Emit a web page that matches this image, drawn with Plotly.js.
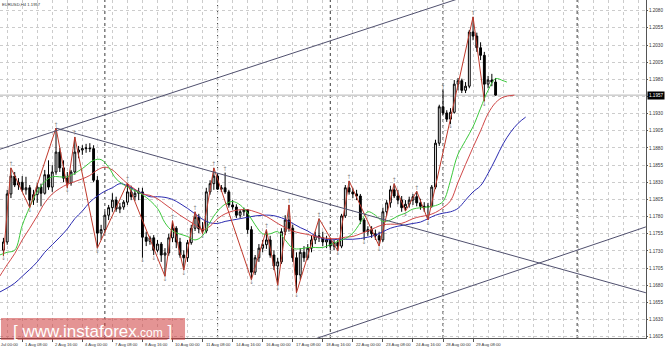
<!DOCTYPE html>
<html><head><meta charset="utf-8">
<script src="https://cdn.plot.ly/plotly-3.0.1.min.js"></script>
<style>html,body{margin:0;padding:0;background:#fff}#chart{width:665px;height:351px}</style>
</head><body><div id="chart"></div>
<script>
// ---- data (EURUSD H4, bar index 0 = 31 Jul 00:00) ----
const firstBar = 3;
const open = [
1.1731,1.1743,1.1813,1.1839,1.1826,1.1830,1.1819,1.1822,1.1804,1.1812,
1.1823,1.1814,1.1841,1.1823,1.1845,1.1874,1.1851,1.1836,1.1829,1.1845,
1.1874,1.1877,1.1879,1.1880,1.1879,1.1833,1.1756,1.1761,1.1782,1.1793,
1.1804,1.1791,1.1794,1.1801,1.1816,1.1809,1.1814,1.1816,1.1750,1.1744,
1.1749,1.1731,1.1740,1.1724,1.1727,1.1749,1.1763,1.1743,1.1724,1.1720,
1.1742,1.1763,1.1779,1.1762,1.1759,1.1816,1.1828,1.1839,1.1820,1.1822,
1.1816,1.1797,1.1794,1.1782,1.1787,1.1790,1.1761,1.1699,1.1720,1.1734,
1.1739,1.1746,1.1724,1.1708,1.1714,1.1758,1.1775,1.1763,1.1720,1.1695,
1.1728,1.1720,1.1734,1.1746,1.1752,1.1749,1.1743,1.1746,1.1737,1.1742,
1.1737,1.1781,1.1822,1.1816,1.1813,1.1810,1.1775,1.1758,1.1761,1.1755,
1.1752,1.1746,1.1787,1.1800,1.1819,1.1810,1.1804,1.1793,1.1798,1.1804,
1.1809,1.1800,1.1795,1.1794,1.1795,1.1823,1.1887,1.1940,1.1931,1.1922,
1.1932,1.1973,1.1978,1.1964,1.1970,1.2049,1.2043,1.2026,1.2015,1.1973,
1.1979,1.1976];
const high = [
1.1749,1.1819,1.1851,1.1845,1.1836,1.1839,1.1838,1.1826,1.1819,1.1829,
1.1828,1.1848,1.1862,1.1855,1.1909,1.1880,1.1862,1.1845,1.1848,1.1896,
1.1883,1.1884,1.1886,1.1887,1.1884,1.1839,1.1768,1.1787,1.1797,1.1814,
1.1809,1.1800,1.1804,1.1829,1.1825,1.1819,1.1822,1.1822,1.1758,1.1752,
1.1753,1.1746,1.1743,1.1734,1.1755,1.1774,1.1766,1.1749,1.1731,1.1746,
1.1768,1.1787,1.1784,1.1772,1.1822,1.1833,1.1851,1.1842,1.1826,1.1844,
1.1819,1.1804,1.1798,1.1790,1.1793,1.1791,1.1766,1.1724,1.1740,1.1746,
1.1761,1.1752,1.1731,1.1720,1.1763,1.1782,1.1797,1.1768,1.1728,1.1734,
1.1737,1.1740,1.1752,1.1758,1.1777,1.1758,1.1752,1.1749,1.1746,1.1746,
1.1784,1.1826,1.1832,1.1822,1.1819,1.1813,1.1778,1.1766,1.1766,1.1761,
1.1758,1.1793,1.1804,1.1825,1.1828,1.1819,1.1810,1.1804,1.1809,1.1813,
1.1817,1.1806,1.1801,1.1800,1.1826,1.1892,1.1943,1.1964,1.1935,1.1938,
1.1979,1.1982,1.1981,1.1976,1.2052,1.2071,1.2048,1.2034,1.2020,1.1985,
1.1988,1.1982];
const low = [
1.1723,1.1739,1.1807,1.1823,1.1819,1.1816,1.1812,1.1793,1.1797,1.1800,
1.1795,1.1812,1.1819,1.1816,1.1841,1.1845,1.1830,1.1822,1.1825,1.1841,
1.1865,1.1870,1.1873,1.1874,1.1830,1.1734,1.1746,1.1756,1.1775,1.1787,
1.1787,1.1785,1.1790,1.1797,1.1804,1.1803,1.1804,1.1720,1.1737,1.1739,
1.1724,1.1728,1.1714,1.1693,1.1723,1.1743,1.1734,1.1720,1.1702,1.1714,
1.1739,1.1759,1.1756,1.1755,1.1756,1.1812,1.1819,1.1819,1.1816,1.1813,
1.1793,1.1790,1.1778,1.1778,1.1781,1.1755,1.1688,1.1695,1.1714,1.1728,
1.1733,1.1720,1.1702,1.1680,1.1711,1.1753,1.1758,1.1714,1.1669,1.1688,
1.1714,1.1717,1.1728,1.1740,1.1743,1.1737,1.1734,1.1731,1.1731,1.1730,
1.1734,1.1778,1.1812,1.1807,1.1804,1.1769,1.1746,1.1752,1.1749,1.1746,
1.1737,1.1743,1.1781,1.1793,1.1807,1.1798,1.1787,1.1788,1.1793,1.1797,
1.1795,1.1790,1.1787,1.1775,1.1793,1.1820,1.1883,1.1928,1.1918,1.1915,
1.1930,1.1964,1.1960,1.1960,1.1967,1.2037,1.2020,1.2008,1.1948,1.1967,
1.1970,1.1956];
const close = [
1.1743,1.1813,1.1839,1.1826,1.1830,1.1819,1.1822,1.1804,1.1812,1.1823,
1.1814,1.1841,1.1823,1.1845,1.1874,1.1851,1.1836,1.1829,1.1845,1.1874,
1.1877,1.1879,1.1880,1.1879,1.1833,1.1756,1.1761,1.1782,1.1793,1.1804,
1.1791,1.1794,1.1801,1.1816,1.1809,1.1814,1.1816,1.1750,1.1744,1.1749,
1.1731,1.1740,1.1724,1.1727,1.1749,1.1763,1.1743,1.1724,1.1720,1.1742,
1.1763,1.1779,1.1762,1.1759,1.1816,1.1828,1.1839,1.1820,1.1822,1.1816,
1.1797,1.1794,1.1782,1.1787,1.1790,1.1761,1.1699,1.1720,1.1734,1.1739,
1.1746,1.1724,1.1708,1.1714,1.1758,1.1775,1.1763,1.1720,1.1695,1.1728,
1.1720,1.1734,1.1746,1.1752,1.1749,1.1743,1.1746,1.1737,1.1742,1.1737,
1.1781,1.1822,1.1816,1.1813,1.1810,1.1775,1.1758,1.1761,1.1755,1.1752,
1.1746,1.1787,1.1800,1.1819,1.1810,1.1804,1.1793,1.1798,1.1804,1.1809,
1.1800,1.1795,1.1794,1.1795,1.1823,1.1887,1.1940,1.1931,1.1922,1.1932,
1.1973,1.1978,1.1964,1.1970,1.2049,1.2043,1.2026,1.2015,1.1973,1.1979,
1.1976,1.1957];

// Alligator lines (lips green, teeth red, jaw blue)
const lipsIdx = [2,4,6,8,10,12,14,16,20,24,27,29,31,33,36,40,44,46,48,52,54,56,58,60,62,64,66,68,70,72,74,76,78,80,82,84,86,88,90,92,94,96,98,100,102,104,106,108,110,112,116,118,120,122,123,124,126,128,130,132,134,136,137];
const lipsVal = [1.1724,1.1728,1.1731,1.1767,1.1794,1.1816,1.1831,1.1838,1.1838,1.1850,1.1862,1.1863,1.1852,1.1835,1.1823,1.1812,1.1792,1.1771,1.1759,1.1751,1.1746,1.1752,1.1772,1.1788,1.1798,1.1802,1.1797,1.1785,1.1768,1.1755,1.1755,1.1758,1.1746,1.1734,1.1733,1.1735,1.1735,1.1735,1.1739,1.1744,1.1748,1.1756,1.1771,1.1787,1.1782,1.1773,1.1775,1.1781,1.1785,1.1791,1.1794,1.1796,1.1802,1.1833,1.1854,1.1871,1.1891,1.1911,1.1938,1.1964,1.1981,1.1978,1.1976];
const teethIdx = [2,4,6,8,10,12,14,16,18,20,22,24,26,28,30,32,34,36,38,40,42,44,46,48,50,52,54,56,58,60,62,64,66,68,70,72,74,76,78,80,82,84,86,88,90,92,94,96,98,100,102,104,106,108,110,112,114,116,118,120,122,124,126,128,130,132,134,136,139];
const teethVal = [1.1693,1.1710,1.1726,1.1746,1.1763,1.1781,1.1800,1.1813,1.1821,1.1827,1.1831,1.1835,1.1840,1.1848,1.1852,1.1848,1.1838,1.1828,1.1820,1.1813,1.1811,1.1806,1.1798,1.1790,1.1782,1.1775,1.1768,1.1761,1.1766,1.1777,1.1784,1.1788,1.1790,1.1790,1.1787,1.1783,1.1777,1.1770,1.1764,1.1759,1.1756,1.1754,1.1751,1.1749,1.1748,1.1748,1.1750,1.1751,1.1755,1.1759,1.1764,1.1768,1.1769,1.1769,1.1772,1.1777,1.1780,1.1782,1.1786,1.1793,1.1803,1.1830,1.1856,1.1881,1.1905,1.1930,1.1946,1.1954,1.1957];
const jawIdx = [2,4,6,8,10,12,14,16,18,20,22,24,26,28,30,32,34,36,38,40,42,44,46,48,50,52,54,56,58,60,62,64,66,68,70,72,74,76,78,80,82,84,86,88,90,92,94,96,98,100,102,104,106,108,110,112,114,116,118,120,122,124,126,128,130,132,134,136,138,140,142];
const jawVal = [1.1670,1.1676,1.1683,1.1693,1.1703,1.1714,1.1728,1.1739,1.1750,1.1762,1.1777,1.1788,1.1801,1.1810,1.1817,1.1822,1.1828,1.1825,1.1819,1.1814,1.1809,1.1809,1.1808,1.1805,1.1799,1.1792,1.1784,1.1776,1.1771,1.1770,1.1773,1.1775,1.1777,1.1779,1.1781,1.1782,1.1782,1.1780,1.1776,1.1770,1.1764,1.1759,1.1752,1.1748,1.1746,1.1747,1.1747,1.1747,1.1748,1.1750,1.1753,1.1758,1.1763,1.1766,1.1768,1.1770,1.1772,1.1777,1.1782,1.1785,1.1787,1.1792,1.1804,1.1816,1.1825,1.1843,1.1864,1.1886,1.1903,1.1916,1.1925];

// ZigZag vertices
const zzIdx = [3,5,10,17,20,22,28,36,46,48,51,54,56,59,69,73,76,79,81,87,92,95,103,107,110,113,116,128,131];
const zzVal = [1.1723,1.1851,1.1793,1.1909,1.1822,1.1896,1.1734,1.1829,1.1693,1.1774,1.1702,1.1787,1.1755,1.1851,1.1688,1.1761,1.1680,1.1797,1.1669,1.1777,1.1730,1.1832,1.1737,1.1828,1.1788,1.1817,1.1775,1.2071,1.1948];

// Fractals
const fracUp = [5,17,22,36,48,54,59,62,73,79,87,95,107,113,120,128];
const fracDn = [3,10,20,28,40,43,46,51,56,69,76,81,92,99,103,110,116,122,131];

// Trend lines (bar index, price)
const chanUpIdx = [2,140],  chanUpVal = [1.1878,1.2126];
const trendDnIdx = [17,174], trendDnVal = [1.1909,1.1669];
const chanLoIdx = [85,174], chanLoVal = [1.1600,1.1765];

// vertical separators
const sepIdx = [30,60,90,120,155.7];

// time axis labels
const tickIdx = [0,8,16,24,32,40,48,56,64,72,80,88,96,104,112,120,128];
const tickText = ["31 Jul 00:00","1 Aug 08:00","2 Aug 16:00","4 Aug 00:00","7 Aug 08:00","8 Aug 16:00","10 Aug 00:00","11 Aug 08:00","14 Aug 16:00","16 Aug 00:00","17 Aug 08:00","18 Aug 16:00","22 Aug 00:00","23 Aug 08:00","24 Aug 16:00","28 Aug 00:00","29 Aug 08:00"];

// ---- build ----
const barIdx = open.map((_, k) => firstBar + k);
const xRange = [2.087, 174.03];
const yRange = [1.16031, 1.20956];
const lastClose = close[close.length - 1];
const smallFont = 'Liberation Sans';

const traces = [
  {type:'scatter', mode:'lines', x: jawIdx, y: jawVal, line:{color:'#2b2bb0', width:1, shape:'spline', smoothing:1}, hoverinfo:'skip'},
  {type:'scatter', mode:'lines', x: teethIdx, y: teethVal, line:{color:'#d04848', width:1, shape:'spline', smoothing:1}, hoverinfo:'skip'},
  {type:'scatter', mode:'lines', x: lipsIdx, y: lipsVal, line:{color:'#3cc83c', width:1, shape:'spline', smoothing:1}, hoverinfo:'skip'},
  {type:'scatter', mode:'lines', x: zzIdx, y: zzVal, line:{color:'#c0392b', width:1}, hoverinfo:'skip'},
  {type:'scatter', mode:'lines', x: chanUpIdx, y: chanUpVal, line:{color:'#50506e', width:1}, hoverinfo:'skip'},
  {type:'scatter', mode:'lines', x: trendDnIdx, y: trendDnVal, line:{color:'#50506e', width:1}, hoverinfo:'skip'},
  {type:'scatter', mode:'lines', x: chanLoIdx, y: chanLoVal, line:{color:'#50506e', width:1}, hoverinfo:'skip'},
  {type:'candlestick', x: barIdx, open, high, low, close,
    increasing:{line:{color:'#000', width:1}, fillcolor:'#ffffff'},
    decreasing:{line:{color:'#000', width:1}, fillcolor:'#000000'},
    whiskerwidth:0, hoverinfo:'skip'},
  {type:'scatter', mode:'text', x: fracUp, y: fracUp.map(i => high[i - firstBar]), text: fracUp.map(() => '↑'),
    textposition:'top center', textfont:{size:6, color:'#888', family:'DejaVu Sans'}, hoverinfo:'skip'},
  {type:'scatter', mode:'text', x: fracDn, y: fracDn.map(i => low[i - firstBar]), text: fracDn.map(() => '↓'),
    textposition:'bottom center', textfont:{size:6, color:'#888', family:'DejaVu Sans'}, hoverinfo:'skip'}
];

const shapes = sepIdx.map(s => ({type:'line', xref:'x', yref:'paper', x0:s, x1:s, y0:0, y1:1,
  line:{color:'#3a3a3a', width:1, dash:'dot'}, layer:'below'}));
shapes.push({type:'line', xref:'paper', yref:'y', x0:0, x1:1, y0:lastClose, y1:lastClose,
  line:{color:'#b4b4b4', width:1}, layer:'below'});
// watermark box
shapes.push({type:'rect', xref:'paper', yref:'paper', x0:0.0015, x1:0.2864, y0:-0.006, y1:0.0592,
  fillcolor:'rgba(205,60,60,0.55)', line:{width:0}, layer:'above'});

const annotations = tickIdx.map((t, k) => ({
  xref:'paper', yref:'paper', x:(t - xRange[0]) / (xRange[1] - xRange[0]), y:0,
  xanchor:'left', yanchor:'top', xshift:1, yshift:-2, showarrow:false,
  text: tickText[k], font:{size:4.2, color:'#333', family:smallFont}
}));
annotations.push({xref:'paper', yref:'y', x:1, y:lastClose, xanchor:'left', yanchor:'middle', xshift:1, showarrow:false,
  text:lastClose.toFixed(4), bgcolor:'#000', borderpad:1, font:{size:4.6, color:'#fff', family:smallFont}});
annotations.push({xref:'paper', yref:'paper', x:0, y:1, xanchor:'left', yanchor:'top', showarrow:false,
  text:'EURUSD,H4 ' + lastClose.toFixed(4), font:{size:4.2, color:'#333', family:smallFont}});
annotations.push({xref:'paper', yref:'paper', x:0.1439, y:0.0207, xanchor:'center', yanchor:'middle', showarrow:false,
  text:'[ www.instaforex<span style="font-size:12px">.com</span> ]', font:{size:17, color:'#ffffff', family:'Liberation Sans'}});

const layout = {
  width:665, height:351,
  margin:{l:0, r:19, t:0, b:13, pad:0},
  paper_bgcolor:'#ffffff', plot_bgcolor:'#ffffff',
  showlegend:false, hovermode:false,
  xaxis:{range:xRange, tickvals:tickIdx, showticklabels:false, ticks:'outside', ticklen:3, tickcolor:'#555',
    showgrid:true, gridcolor:'#cccccc', griddash:'dot', gridwidth:1,
    minor:{tick0:0, dtick:4, showgrid:true, gridcolor:'#cccccc', griddash:'dot', ticks:''},
    showline:true, linecolor:'#555', linewidth:1, zeroline:false, rangeslider:{visible:false}, fixedrange:true},
  yaxis:{side:'right', range:yRange, tick0:1.1605, dtick:0.0025, tickformat:'.4f',
    ticks:'outside', ticklen:1, tickcolor:'#555', tickfont:{size:4.6, color:'#333', family:smallFont},
    showgrid:true, gridcolor:'#cccccc', griddash:'dot', gridwidth:1,
    showline:true, linecolor:'#555', linewidth:1, zeroline:false, fixedrange:true},
  shapes, annotations
};

Plotly.newPlot('chart', traces, layout, {staticPlot:true, displayModeBar:false});
</script>
</body></html>
